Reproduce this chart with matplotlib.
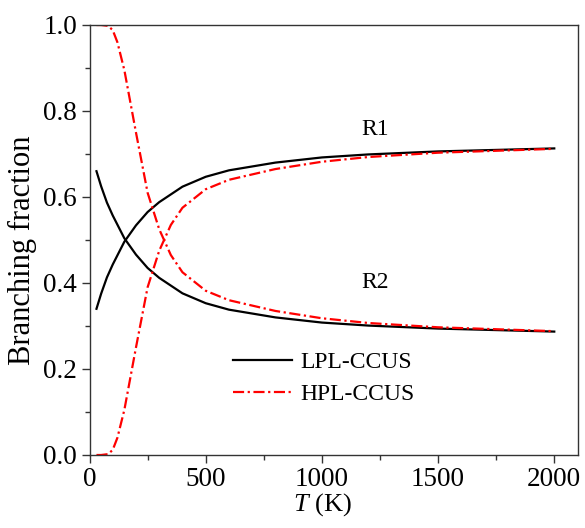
import matplotlib
matplotlib.use("Agg")
import matplotlib.pyplot as plt
from matplotlib.ticker import MultipleLocator, FormatStrFormatter

plt.rcParams['font.family'] = ['Liberation Serif', 'DejaVu Serif']
plt.rcParams['mathtext.fontset'] = 'custom'
plt.rcParams['mathtext.it'] = 'Liberation Serif:italic'
plt.rcParams['mathtext.rm'] = 'Liberation Serif'

# Temperatures (K)
T_lpl = [30, 50, 75, 100, 150, 200, 250, 300, 400, 500, 600, 800, 1000, 1200, 1500, 2000]
R1_lpl = [0.340, 0.375, 0.413, 0.443, 0.496, 0.534, 0.565, 0.588, 0.624, 0.647, 0.662, 0.680, 0.692, 0.699, 0.706, 0.713]

T_hpl = [30, 50, 80, 100, 120, 150, 200, 250, 300, 350, 400, 500, 600, 800, 1000, 1200, 1500, 2000]
R1_hpl = [0.000, 0.000, 0.002, 0.012, 0.040, 0.105, 0.250, 0.390, 0.475, 0.535, 0.575, 0.618, 0.640, 0.665, 0.682, 0.693, 0.703, 0.712]

R2_lpl = [1 - v for v in R1_lpl]
R2_hpl = [1 - v for v in R1_hpl]

fig = plt.figure(figsize=(5.85, 5.28), dpi=100)
ax = fig.add_axes([89.5/585, 1 - 455/528, (577.5 - 89.5)/585, (455 - 25)/528])

dash = (0, (5, 1.6, 1, 1.6))
lw = 1.6
ax.plot(T_lpl, R1_lpl, color='black', lw=lw, label='LPL-CCUS')
ax.plot(T_lpl, R2_lpl, color='black', lw=lw)
ax.plot(T_hpl, R1_hpl, color='red', lw=lw, ls=dash, label='HPL-CCUS')
ax.plot(T_hpl, R2_hpl, color='red', lw=lw, ls=dash)

ax.set_xlim(0, 2100)
ax.set_ylim(0, 1.0)
ax.xaxis.set_major_locator(MultipleLocator(500))
ax.xaxis.set_minor_locator(MultipleLocator(250))
ax.yaxis.set_major_locator(MultipleLocator(0.2))
ax.yaxis.set_minor_locator(MultipleLocator(0.1))
ax.yaxis.set_major_formatter(FormatStrFormatter('%.1f'))

ax.tick_params(which='major', direction='out', length=6, width=1, labelsize=19.5,
               colors='#333333', labelcolor='black', pad=3)
ax.tick_params(which='minor', direction='out', length=3.5, width=1, colors='#333333')
for s in ax.spines.values():
    s.set_color('#333333')
    s.set_linewidth(1.0)

ax.set_xlabel(r'$T$ (K)', fontsize=19, labelpad=0)
ax.xaxis.set_label_coords(1000 / 2100, -0.085)
ax.set_ylabel('Branching fraction', fontsize=22)
ax.yaxis.set_label_coords(-0.107, 0.477)

ax.text(1230, 0.756, 'R1', fontsize=17, ha='center', va='center')
ax.text(1230, 0.40, 'R2', fontsize=17, ha='center', va='center')

ax.legend(loc='center left', bbox_to_anchor=(0.25, 0.178), frameon=False, fontsize=17,
          handlelength=2.5, handletextpad=0.35, labelspacing=0.45)

fig.savefig('out.png', dpi=100)
